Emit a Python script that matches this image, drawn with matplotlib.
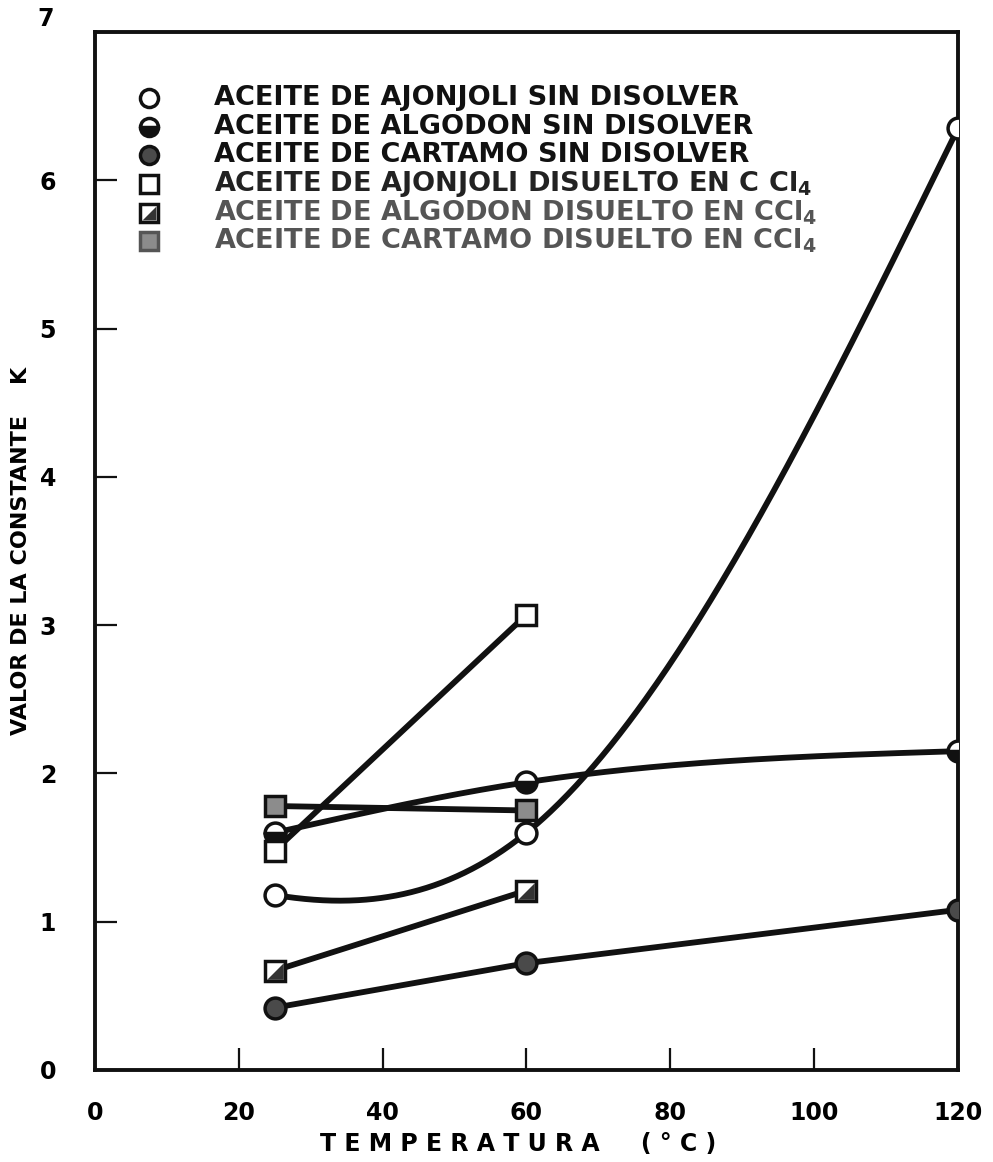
import numpy as np
import matplotlib
matplotlib.use('Agg')
import matplotlib.pyplot as plt
from matplotlib.path import Path

plt.rcParams['font.family'] = ['DejaVu Sans']
plt.rcParams['font.weight'] = 'bold'
plt.rcParams['mathtext.fontset'] = 'dejavusans'
plt.rcParams['mathtext.default'] = 'bf'

# data (temperature in C, constant K)
temp_ajonjoli = [25, 60, 120]
k_ajonjoli = [1.18, 1.60, 6.35]
temp_algodon = [25, 60, 120]
k_algodon = [1.60, 1.94, 2.15]
temp_cartamo = [25, 60, 120]
k_cartamo = [0.42, 0.72, 1.08]
temp_ajonjoli_ccl4 = [25, 60]
k_ajonjoli_ccl4 = [1.48, 3.07]
temp_algodon_ccl4 = [25, 60]
k_algodon_ccl4 = [0.67, 1.21]
temp_cartamo_ccl4 = [25, 60]
k_cartamo_ccl4 = [1.78, 1.75]

legend_labels = ['ACEITE DE AJONJOLI SIN DISOLVER',
                 'ACEITE DE ALGODON SIN DISOLVER',
                 'ACEITE DE CARTAMO SIN DISOLVER',
                 'ACEITE DE AJONJOLI DISUELTO EN C Cl$_4$',
                 'ACEITE DE ALGODON DISUELTO EN CCl$_4$',
                 'ACEITE DE CARTAMO DISUELTO EN CCl$_4$']
xticks = [0, 20, 40, 60, 80, 100, 120]
yticks = [0, 1, 2, 3, 4, 5, 6, 7]

ink = '#111111'
lw = 4.2
ms = 15

# lower-right triangle for the half filled square
tri = Path([(0.5, -0.5), (0.5, 0.5), (-0.5, -0.5), (0.5, -0.5)],
           [Path.MOVETO, Path.LINETO, Path.LINETO, Path.CLOSEPOLY])


def spline3(xs, ys, s0=None, n=200):
    # two piece cubic through 3 points, start slope s0 (or natural), natural end
    x0, x1, x2 = xs
    y0, y1, y2 = ys
    h0, h1 = x1 - x0, x2 - x1
    A = np.zeros((8, 8))
    b = np.zeros(8)
    # piece i: a + b t + c t^2 + d t^3, unknowns [a0 b0 c0 d0 a1 b1 c1 d1]
    A[0, 0] = 1; b[0] = y0
    A[1, :4] = [1, h0, h0**2, h0**3]; b[1] = y1
    A[2, 4] = 1; b[2] = y1
    A[3, 4:] = [1, h1, h1**2, h1**3]; b[3] = y2
    A[4, :4] = [0, 1, 2 * h0, 3 * h0**2]; A[4, 5] = -1
    A[5, :4] = [0, 0, 2, 6 * h0]; A[5, 6] = -2
    if s0 is None:
        A[6, 2] = 2
    else:
        A[6, 1] = 1; b[6] = s0
    A[7, 4:] = [0, 0, 2, 6 * h1]
    c = np.linalg.solve(A, b)
    t0 = np.linspace(0, h0, n)
    t1 = np.linspace(0, h1, n)
    xx = np.concatenate([x0 + t0, x1 + t1])
    yy = np.concatenate([c[0] + c[1] * t0 + c[2] * t0**2 + c[3] * t0**3,
                         c[4] + c[5] * t1 + c[6] * t1**2 + c[7] * t1**3])
    return xx, yy


fig = plt.figure(figsize=(9.93, 11.62), dpi=100)
ax = fig.add_axes([0.0957, 0.0792, 0.869, 0.8933])

# lines first
xx, yy = spline3(temp_ajonjoli, k_ajonjoli, s0=-0.008)
ax.plot(xx, yy, color=ink, lw=lw, solid_capstyle='round', zorder=2)
xx, yy = spline3(temp_algodon, k_algodon)
ax.plot(xx, yy, color=ink, lw=lw, solid_capstyle='round', zorder=2)
ax.plot(temp_cartamo, k_cartamo, color=ink, lw=lw, zorder=2)
ax.plot(temp_ajonjoli_ccl4, k_ajonjoli_ccl4, color=ink, lw=lw, zorder=2)
ax.plot(temp_algodon_ccl4, k_algodon_ccl4, color=ink, lw=lw, zorder=2)
ax.plot(temp_cartamo_ccl4, k_cartamo_ccl4, color=ink, lw=lw, zorder=2)

# markers
mk = dict(ms=ms, mew=2.5, mec=ink, ls='none', zorder=4)
ax.plot(temp_ajonjoli, k_ajonjoli, 'o', mfc='white', **mk)
ax.plot(temp_algodon, k_algodon, 'o', mfc=ink, fillstyle='bottom',
        markerfacecoloralt='white', **mk)
ax.plot(temp_cartamo, k_cartamo, 'o', mfc='#4a4a4a', **mk)
ax.plot(temp_ajonjoli_ccl4, k_ajonjoli_ccl4, 's', mfc='white', **mk)
ax.plot(temp_algodon_ccl4, k_algodon_ccl4, 's', mfc='white', **mk)
ax.plot(temp_algodon_ccl4, k_algodon_ccl4, marker=tri, ms=ms - 3, mfc='#333333',
        mec='none', ls='none', zorder=5)
ax.plot(temp_cartamo_ccl4, k_cartamo_ccl4, 's', mfc='#8c8c8c', **mk)

# hand made legend inside the axes
leg_styles = [dict(marker='o', mfc='white'),
              dict(marker='o', mfc=ink, fillstyle='bottom', markerfacecoloralt='white'),
              dict(marker='o', mfc='#4a4a4a'),
              dict(marker='s', mfc='white'),
              dict(marker='s', mfc='white'),
              dict(marker='s', mfc='#8c8c8c', mec='#555555')]
text_colors = [ink, ink, ink, '#222222', '#555555', '#555555']
for i, lab in enumerate(legend_labels):
    yl = 0.936 - i * 0.0275
    st = dict(ms=13, mew=2.5, mec=ink, ls='none')
    st.update(leg_styles[i])
    ax.plot([0.062], [yl], transform=ax.transAxes, clip_on=False, **st)
    if i == 4:
        ax.plot([0.062], [yl], transform=ax.transAxes, marker=tri, ms=10,
                mfc='#333333', mec='none', ls='none')
    ax.text(0.138, yl, lab, transform=ax.transAxes, fontsize=19.5,
            fontweight='bold', color=text_colors[i], va='center', ha='left')

ax.set_xlim(0, 120)
ax.set_ylim(0, 7)
ax.set_xticks(xticks)
ax.set_yticks(yticks)
ax.set_xticklabels([str(t) for t in xticks], fontsize=17, fontweight='bold')
ax.set_yticklabels(['0', '1', '2', '3', '4', '5', '6', ''], fontsize=17, fontweight='bold')
ax.tick_params(direction='in', length=16, width=1.6, color=ink)
ax.tick_params(axis='x', pad=22)
ax.tick_params(axis='y', pad=28)
for s in ax.spines.values():
    s.set_linewidth(2.8)
    s.set_color(ink)

# the 7 sits above the frame in the original
ax.text(-0.057, 1.012, '7', transform=ax.transAxes, fontsize=17,
        fontweight='bold', ha='center', va='center')

ax.set_xlabel('T E M P E R A T U R A     ( ° C )', fontsize=17, fontweight='bold')
ax.xaxis.label.set_va('center')
ax.xaxis.set_label_coords(0.49, -0.071)
ax.set_ylabel('VALOR DE LA CONSTANTE    K', fontsize=16, fontweight='bold')
ax.yaxis.label.set_va('center')
ax.yaxis.set_label_coords(-0.086, 0.5)

fig.savefig('out.png', dpi=100)
plt.close(fig)
